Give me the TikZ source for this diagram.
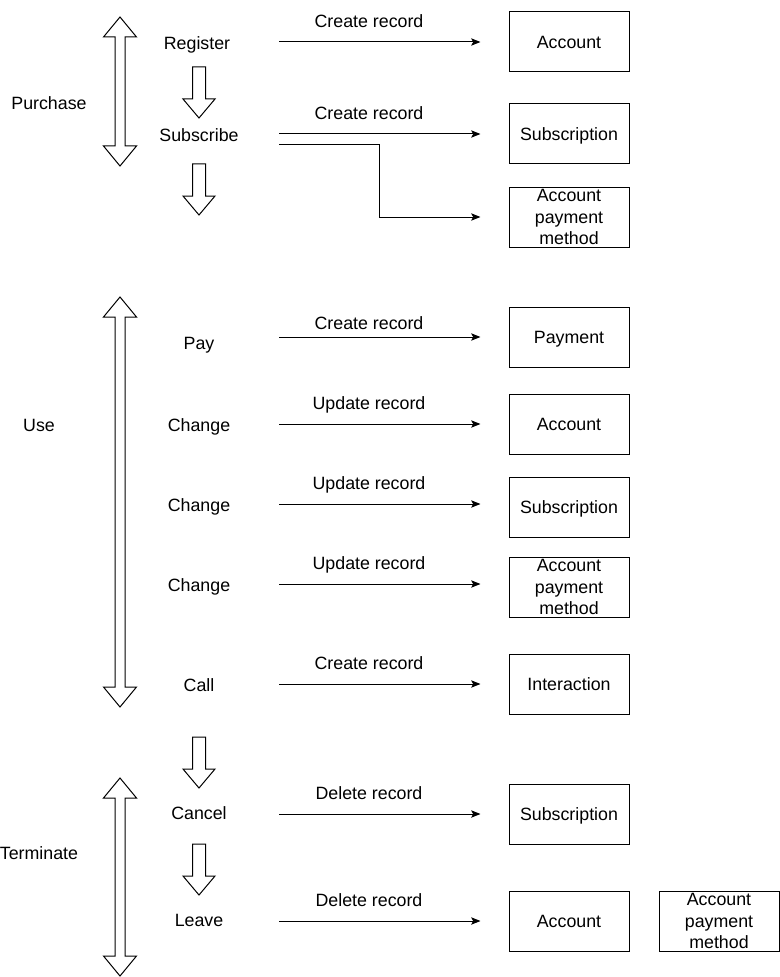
\documentclass[tikz,border=0pt]{standalone}
\usepackage{fontspec}
\setmainfont{Liberation Sans}
\usetikzlibrary{arrows.meta}
\begin{document}
\begin{tikzpicture}[x=0.75pt,y=-0.75pt,
  every node/.style={font=\fontsize{13.35pt}{16.1pt}\selectfont, inner sep=0pt},
  oneline/.style={text height=11.3pt, text depth=2pt},
  entity/.style={draw, line width=0.75pt, minimum width=90pt, minimum height=45pt, align=center},
  ent/.style={entity, oneline},
  conn/.style={line width=0.75pt, -{Stealth[length=7pt,width=5.5pt,inset=1.5pt]}, shorten >=21pt},
  lbl/.style={anchor=center, oneline},
  phase/.style={line width=0.75pt, draw}
]
\useasboundingbox (0,0) rectangle (780,977);

% phase labels
\node[lbl] (ph1) at (49,103) {Purchase};
\node[lbl] (ph2) at (39,425) {Use};
\node[lbl] (ph3) at (39,853) {Terminate};

% double arrows
\foreach \t/\b in {17/166, 297/707, 778/976} {
  \draw[phase] (120,\t) -- (136.5,\t+20) -- (125,\t+20) -- (125,\b-20) -- (136.5,\b-20) -- (120,\b)
    -- (103.5,\b-20) -- (115,\b-20) -- (115,\t+20) -- (103.5,\t+20) -- cycle;
}

% block down arrows
\foreach \T/\P in {67/118, 164/215, 737/788, 844/895} {
  \draw[phase] (192.5,\T) -- (205.5,\T) -- (205.5,\P-19) -- (215,\P-19) -- (199,\P)
    -- (183,\P-19) -- (192.5,\P-19) -- cycle;
}

% actions
\node[lbl] (reg) at (197,43) {Register};
\node[lbl] (sub) at (199,135) {Subscribe};
\node[lbl] (pay) at (199,343) {Pay};
\node[lbl] (ch1) at (199,425) {Change};
\node[lbl] (ch2) at (199,505) {Change};
\node[lbl] (ch3) at (199,585) {Change};
\node[lbl] (call) at (199,685) {Call};
\node[lbl] (canc) at (199,813) {Cancel};
\node[lbl] (leave) at (199,920) {Leave};

% entities
\node[ent] (e1) at (569,42) {Account};
\node[ent] (e2) at (569,134) {Subscription};
\node[entity] (e3) at (569,217) {Account\\payment\\method};
\node[ent] (e4) at (569,337) {Payment};
\node[ent] (e5) at (569,424) {Account};
\node[ent] (e6) at (569,507) {Subscription};
\node[entity] (e7) at (569,587) {Account\\payment\\method};
\node[ent] (e8) at (569,684) {Interaction};
\node[ent] (e9) at (569,814) {Subscription};
\node[ent] (e10) at (569,921) {Account};
\node[entity] (e11) at (719,921) {Account\\payment\\method};

% connectors
\coordinate (s1) at (279,42);
\coordinate (s2) at (279,134);
\coordinate (s3) at (279,145);
\coordinate (s4) at (279,337);
\coordinate (s5) at (279,424);
\coordinate (s6) at (279,504);
\coordinate (s7) at (279,584);
\coordinate (s8) at (279,684);
\coordinate (s9) at (279,814);
\coordinate (s10) at (279,921);

\draw[conn] (s1) -- (e1.west);
\draw[conn] (s2) -- (e2.west);
\draw[conn] (s3) -- (379,145) -- (379,217) -- (e3.west);
\draw[conn] (s4) -- (e4.west);
\draw[conn] (s5) -- (e5.west);
\draw[conn] (s6) -- (e6.west |- s6);
\draw[conn] (s7) -- (e7.west |- s7);
\draw[conn] (s8) -- (e8.west);
\draw[conn] (s9) -- (e9.west);
\draw[conn] (s10) -- (e10.west);

% connector labels
\node[lbl] (l1) at (369,21) {Create record};
\node[lbl] (l2) at (369,113) {Create record};
\node[lbl] (l4) at (369,323) {Create record};
\node[lbl] (l5) at (369,403) {Update record};
\node[lbl] (l6) at (369,483) {Update record};
\node[lbl] (l7) at (369,563) {Update record};
\node[lbl] (l8) at (369,663) {Create record};
\node[lbl] (l9) at (369,793) {Delete record};
\node[lbl] (l10) at (369,900) {Delete record};
\end{tikzpicture}
\end{document}
